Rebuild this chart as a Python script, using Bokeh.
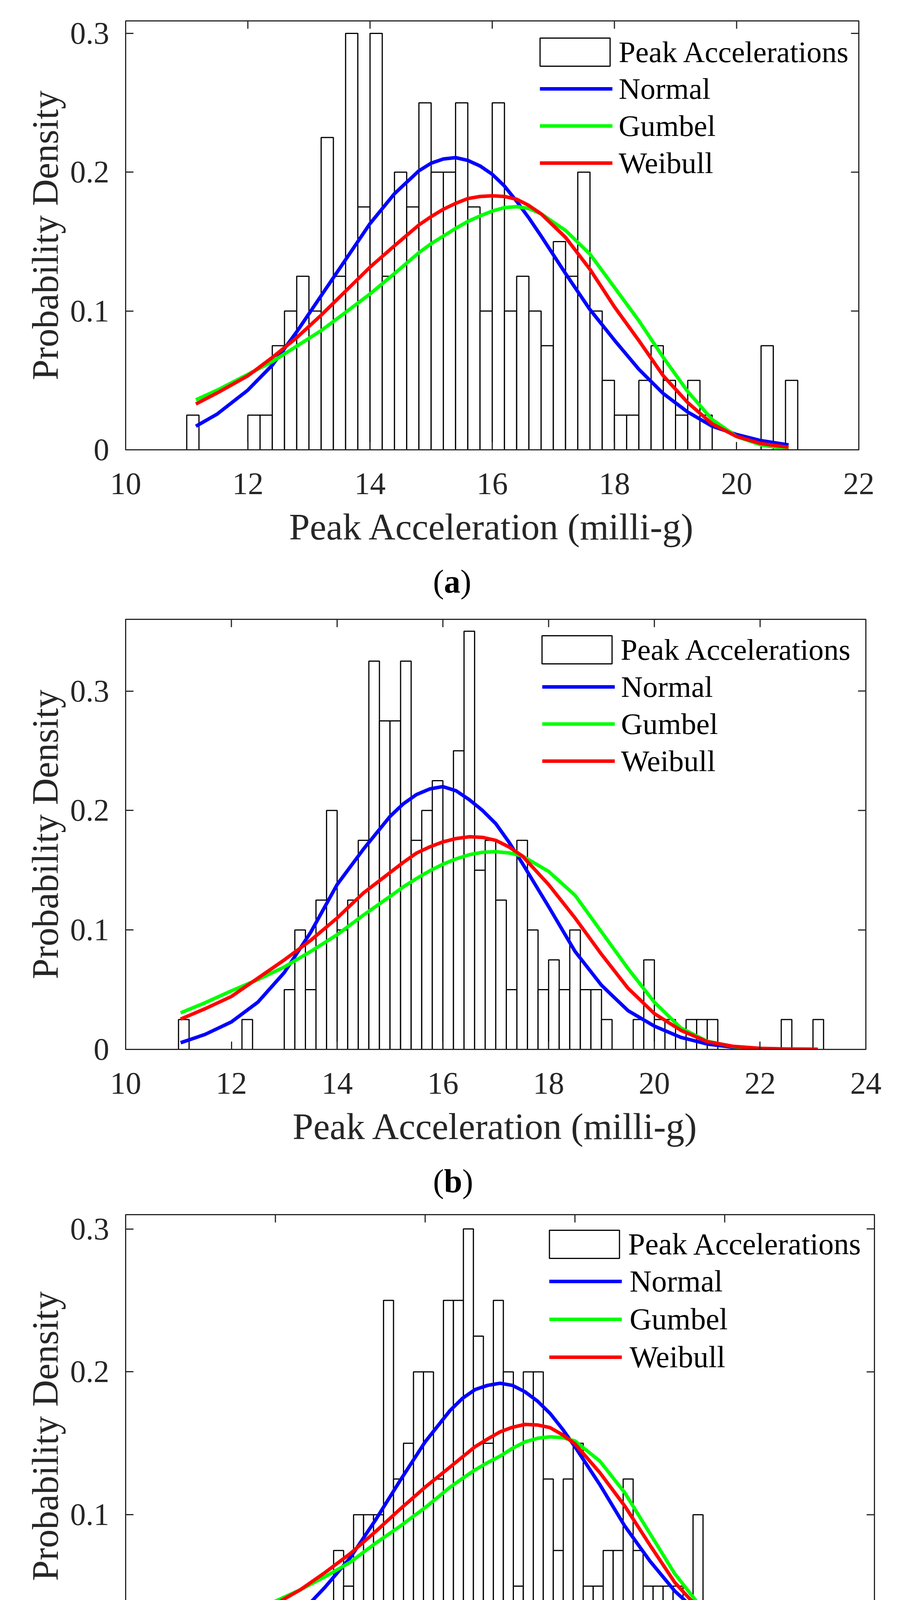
import math
from bokeh.plotting import figure
from bokeh.models import Range1d, FixedTicker, Legend, LegendItem, Div
from bokeh.layouts import column
from bokeh.embed import file_html
from bokeh.resources import INLINE

# ---------------- data ----------------
bin_width = 0.2

# panel (a)
hist_a_start = 11.0
density_a = [0.025, 0, 0, 0, 0, 0.025, 0.025, 0.075, 0.1, 0.125,
             0.1, 0.225, 0.125, 0.3, 0.175, 0.3, 0.125, 0.2, 0.175, 0.25,
             0.2, 0.2, 0.25, 0.175, 0.1, 0.25, 0.1, 0.125, 0.1, 0.075,
             0.15, 0.125, 0.2, 0.1, 0.05, 0.025, 0.025, 0.05, 0.075, 0.05,
             0.025, 0.05, 0.025, 0, 0, 0, 0, 0.075, 0, 0.05]
x_a = [11.15, 11.5, 12.0, 12.4, 12.8, 13.2, 13.6, 14.0, 14.4, 14.8, 15.0, 15.2, 15.4, 15.6,
       15.8, 16.0, 16.2, 16.4, 16.6, 16.8, 17.2, 17.6, 18.0, 18.4, 18.8, 19.2, 19.6, 20.0,
       20.4, 20.85]
normal_a = [0.0170, 0.0258, 0.0430, 0.0610, 0.0850, 0.1110, 0.1370, 0.1630, 0.1845, 0.2010,
            0.2065, 0.2095, 0.2105, 0.2085, 0.2045, 0.1985, 0.1900, 0.1790, 0.1670, 0.1540,
            0.1270, 0.1010, 0.0790, 0.0580, 0.0405, 0.0272, 0.0170, 0.0110, 0.0066, 0.0035]
gumbel_a = [0.0360, 0.0430, 0.0543, 0.0635, 0.0747, 0.0859, 0.0990, 0.1123, 0.1270, 0.1420,
            0.1485, 0.1540, 0.1595, 0.1645, 0.1685, 0.1720, 0.1745, 0.1752, 0.1738, 0.1700,
            0.1580, 0.1410, 0.1170, 0.0930, 0.0665, 0.0420, 0.0218, 0.0096, 0.0035, 0.0004]
weibull_a = [0.0330, 0.0410, 0.0533, 0.0665, 0.0808, 0.0970, 0.1143, 0.1316, 0.1470, 0.1620,
             0.1680, 0.1733, 0.1775, 0.1810, 0.1825, 0.1830, 0.1825, 0.1805, 0.1760, 0.1700,
             0.1530, 0.1300, 0.1030, 0.0787, 0.0533, 0.0340, 0.0187, 0.0096, 0.0045, 0.0018]

# panel (b)
hist_b_start = 11.0
density_b = [0.025, 0, 0, 0, 0, 0, 0.025, 0, 0, 0,
             0.05, 0.1, 0.05, 0.125, 0.2, 0.1, 0.125, 0.175, 0.325, 0.275,
             0.275, 0.325, 0.175, 0.2, 0.225, 0.175, 0.25, 0.35, 0.15, 0.175,
             0.125, 0.05, 0.175, 0.1, 0.05, 0.075, 0.05, 0.1, 0.05, 0.05,
             0.025, 0, 0, 0.025, 0.075, 0.025, 0.025, 0, 0.025, 0.025,
             0.025, 0, 0, 0, 0, 0, 0, 0.025, 0, 0, 0.025]
x_b = [11.04, 11.5, 12.0, 12.5, 13.0, 13.5, 14.0, 14.5, 15.0, 15.25, 15.5, 15.75, 16.0,
       16.25, 16.5, 16.75, 17.0, 17.25, 17.5, 18.0, 18.5, 19.0, 19.5, 20.0, 20.5, 21.0,
       21.5, 22.0, 22.5, 23.09]
normal_b = [0.0056, 0.0125, 0.0230, 0.0395, 0.0643, 0.0980, 0.1380, 0.1678, 0.1950, 0.2055,
            0.2133, 0.2180, 0.2200, 0.2165, 0.2090, 0.2000, 0.1890, 0.1735, 0.1560, 0.1195,
            0.0820, 0.0537, 0.0325, 0.0195, 0.0101, 0.0045, 0.0018, 0.0007, 0.0002, 0.0001]
gumbel_b = [0.0306, 0.0390, 0.0490, 0.0584, 0.0690, 0.0820, 0.0960, 0.1125, 0.1280, 0.1360,
            0.1430, 0.1495, 0.1550, 0.1595, 0.1630, 0.1650, 0.1655, 0.1645, 0.1620, 0.1490,
            0.1290, 0.0984, 0.0678, 0.0395, 0.0180, 0.0068, 0.0023, 0.0007, 0.0002, 0.0000]
weibull_b = [0.0254, 0.0340, 0.0443, 0.0596, 0.0749, 0.0913, 0.1100, 0.1310, 0.1480, 0.1565,
             0.1643, 0.1695, 0.1737, 0.1765, 0.1780, 0.1775, 0.1750, 0.1695, 0.1620, 0.1380,
             0.1100, 0.0796, 0.0513, 0.0300, 0.0160, 0.0065, 0.0025, 0.0009, 0.0003, 0.0001]

# panel (c)
hist_c_start = 11.566
density_c = [0.025, 0, 0, 0, 0, 0, 0, 0, 0.025, 0,
             0.025, 0, 0, 0.075, 0.05, 0.1, 0.1, 0.1, 0.25, 0.125,
             0.15, 0.2, 0.2, 0.125, 0.25, 0.25, 0.3, 0.225, 0.15, 0.25,
             0.2, 0.05, 0.2, 0.2, 0.125, 0.075, 0.125, 0.15, 0.05, 0.05,
             0.075, 0.075, 0.125, 0.075, 0.05, 0.05, 0.05, 0.05, 0.025, 0.1,
             0, 0.025, 0.025, 0.025, 0, 0, 0, 0, 0.025, 0.025,
             0.025, 0, 0, 0.025]
x_c = [11.6, 12.0, 12.5, 13.0, 13.5, 14.0, 14.5, 15.0, 15.5, 16.0, 16.5, 16.75, 17.0, 17.25,
       17.5, 17.75, 18.0, 18.25, 18.5, 18.75, 19.0, 19.5, 20.0, 20.5, 21.0, 21.5, 22.0, 22.5,
       23.0, 23.5, 24.0, 24.37]
normal_c = [0.0037, 0.0068, 0.0125, 0.0198, 0.0310, 0.0495, 0.0700, 0.0960, 0.1240, 0.1510,
            0.1730, 0.1815, 0.1876, 0.1905, 0.1920, 0.1905, 0.1860, 0.1795, 0.1710, 0.1600,
            0.1476, 0.1210, 0.0920, 0.0677, 0.0466, 0.0304, 0.0183, 0.0104, 0.0062, 0.0038,
            0.0025, 0.0018]
gumbel_c = [0.0223, 0.0264, 0.0324, 0.0395, 0.0475, 0.0567, 0.0668, 0.0799, 0.0920, 0.1050,
            0.1193, 0.1255, 0.1314, 0.1365, 0.1410, 0.1465, 0.1510, 0.1535, 0.1545, 0.1540,
            0.1516, 0.1375, 0.1153, 0.0870, 0.0587, 0.0365, 0.0203, 0.0095, 0.0035, 0.0010,
            0.0002, 0.0000]
weibull_c = [0.0167, 0.0203, 0.0284, 0.0375, 0.0475, 0.0597, 0.0728, 0.0880, 0.1040, 0.1193,
             0.1334, 0.1405, 0.1476, 0.1530, 0.1580, 0.1612, 0.1632, 0.1628, 0.1610, 0.1560,
             0.1496, 0.1294, 0.1060, 0.0789, 0.0526, 0.0334, 0.0193, 0.0100, 0.0045, 0.0018,
             0.0006, 0.0002]

xticks_a = [10, 12, 14, 16, 18, 20, 22]
xticks_b = [10, 12, 14, 16, 18, 20, 22, 24]
xticks_c = [10, 13, 16, 19, 22, 25]
yticks = [0, 0.1, 0.2, 0.3]

series_names = ["Normal", "Gumbel", "Weibull"]
hist_name = "Peak Accelerations"
x_title = "Peak Acceleration (milli-g)"
y_title = "Probability Density"
captions = ["a", "b", "c"]

# ---------------- styling ----------------
FONT = "Liberation Serif"
AX = "#262626"
COLORS = ["#0000FF", "#00FF00", "#FF0000"]
PAGE_W = 2292


def style_axis(ax, ticks):
    ax.ticker = FixedTicker(ticks=ticks)
    ax.axis_line_color = AX
    ax.axis_line_width = 3
    ax.major_tick_line_color = AX
    ax.major_tick_line_width = 3
    ax.major_tick_in = 20
    ax.major_tick_out = 0
    ax.minor_tick_line_color = None
    ax.major_label_text_font = FONT
    ax.major_label_text_font_size = "80px"
    ax.major_label_text_color = AX
    ax.axis_label_text_font = FONT
    ax.axis_label_text_font_size = "95px"
    ax.axis_label_text_font_style = "normal"
    ax.axis_label_text_color = AX


def build(geo, x_end, y_end, xticks, hist_start, dens, cx, curves, leg):
    fw, fh, bl, br, bt, bb = geo
    p = figure(frame_width=fw, frame_height=fh,
               min_border_left=bl, min_border_right=br,
               min_border_top=bt, min_border_bottom=bb,
               x_range=Range1d(10, x_end), y_range=Range1d(0, y_end),
               output_backend="svg", toolbar_location=None, title=None,
               background_fill_color="white", border_fill_color="white")
    p.grid.visible = False
    p.outline_line_color = AX
    p.outline_line_width = 3

    left = [hist_start + i * bin_width for i in range(len(dens))]
    right = [v + bin_width for v in left]
    q = p.quad(left=left, right=right, bottom=0, top=dens,
               fill_color="white", line_color="black", line_width=3)
    lines = []
    for yv, c in zip(curves, COLORS):
        lines.append(p.line(cx, yv, line_color=c, line_width=9, line_join="round"))

    # mirrored inward ticks on the top and right edges of the box
    p.ray(x=xticks, y=[y_end] * len(xticks), length=20, angle=-math.pi / 2,
          length_units="screen", line_color=AX, line_width=3)
    p.ray(x=[x_end] * len(yticks), y=yticks, length=20, angle=math.pi,
          length_units="screen", line_color=AX, line_width=3)

    style_axis(p.xaxis[0], xticks)
    p.xaxis[0].axis_label = x_title
    p.xaxis[0].major_label_standoff = 60
    p.xaxis[0].axis_label_standoff = 28
    style_axis(p.yaxis[0], yticks)
    p.yaxis[0].axis_label = y_title
    p.yaxis[0].major_label_standoff = 42
    p.yaxis[0].axis_label_standoff = 8
    p.yaxis[0].major_label_overrides = {0: "0"}

    (h_loc, l_loc, l_spacing, l_standoff, fsize) = leg
    common = dict(border_line_alpha=0, background_fill_alpha=0, padding=10, margin=0,
                  label_text_font=FONT, label_text_font_size=fsize, label_text_color="black")
    leg1 = Legend(items=[LegendItem(label=hist_name, renderers=[q])], location=h_loc,
                  glyph_width=224, glyph_height=90, label_height=90, label_standoff=0,
                  spacing=0, **common)
    leg2 = Legend(items=[LegendItem(label=nm, renderers=[r]) for nm, r in zip(series_names, lines)],
                  location=l_loc, glyph_width=186, glyph_height=90, label_height=90,
                  label_standoff=l_standoff, spacing=l_spacing, **common)
    p.add_layout(leg1)
    p.add_layout(leg2)
    return p


def caption(letter, height):
    html = ('<div style="position:relative;width:%dpx;height:%dpx;margin:0;padding:0;">'
            '<div style="position:absolute;left:1108px;top:1px;margin:0;padding:0;'
            "font-family:'Liberation Serif';font-size:84px;line-height:84px;"
            'color:#000000;white-space:nowrap;">(<b>%s</b>)</div></div>') % (PAGE_W, height, letter)
    return Div(text=html, width=PAGE_W, height=height, margin=0)


pa = build((1876, 1098, 321, 95, 53, 295), 22, 0.309, xticks_a, hist_a_start, density_a,
           x_a, [normal_a, gumbel_a, weibull_a],
           ((1028, 963), (1050, 679), 5, 16, "77px"))
pb = build((1894, 1101, 310, 88, 33, 295), 24, 0.36, xticks_b, hist_b_start, density_b,
           x_b, [normal_b, gumbel_b, weibull_b],
           ((1033, 968), (1056, 683), 5, 16, "77px"))
pc = build((1916, 1134, 301, 75, 27, 295), 25, 0.31, xticks_c, hist_c_start, density_c,
           x_c, [normal_c, gumbel_c, weibull_c],
           ((1052, 1003), (1074, 714), 7, 20, "78px"))

ca = caption(captions[0], 106)
cb = caption(captions[1], 101)
cc = caption(captions[2], 108)

layout = column(pa, ca, pb, cb, pc, cc, spacing=0)
open("out.html", "w").write(file_html(layout, INLINE))
